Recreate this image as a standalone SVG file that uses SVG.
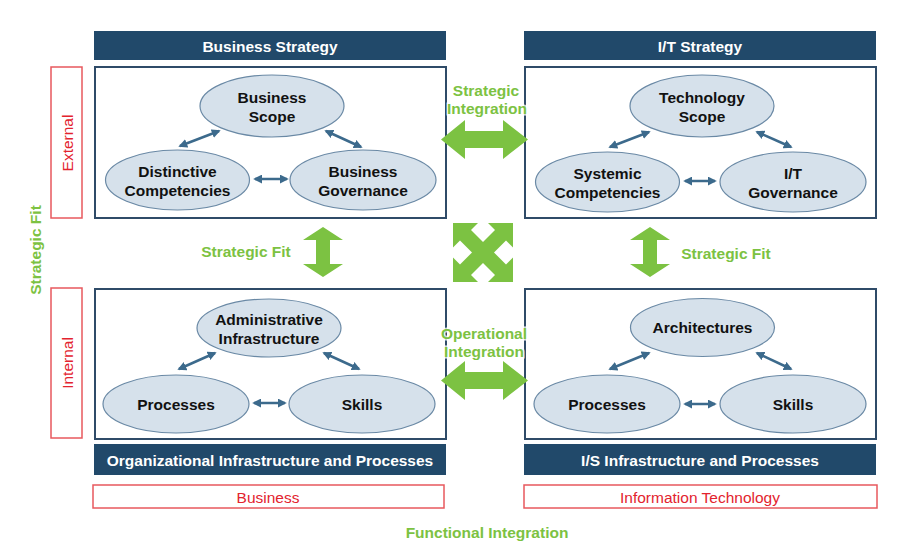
<svg xmlns="http://www.w3.org/2000/svg" width="903" height="549" viewBox="0 0 903 549">
<style>
.hdr{fill:#21496a}
.hdrt{font-family:"Liberation Sans",Arial,sans-serif;font-weight:bold;font-size:15.5px;fill:#ffffff;text-anchor:middle}
.panel{fill:#ffffff;stroke:#2f4b68;stroke-width:2}
.ell{fill:#d6e1eb;stroke:#6a89a5;stroke-width:1.2}
.et{font-family:"Liberation Sans",Arial,sans-serif;font-weight:bold;font-size:15.5px;fill:#111111;text-anchor:middle}
.red{fill:#ffffff;stroke:#e8585d;stroke-width:1.5}
.rt{font-family:"Liberation Sans",Arial,sans-serif;font-size:15.5px;fill:#e3232e;text-anchor:middle}
.gt{font-family:"Liberation Sans",Arial,sans-serif;font-weight:bold;font-size:15.5px;fill:#7cc242;text-anchor:middle}
.gth{stroke:#ffffff;stroke-width:3;paint-order:stroke;stroke-opacity:0.8}
.ga{fill:#7cc242}
.sa{stroke:#3c6a8c;stroke-width:2.5;fill:none;marker-start:url(#ah);marker-end:url(#ah)}
</style>
<defs>
<marker id="ah" viewBox="0 0 10 10" refX="8" refY="5" markerWidth="3.6" markerHeight="3.6" orient="auto-start-reverse" markerUnits="strokeWidth">
<path d="M0,0 L10,5 L0,10 Z" fill="#3c6a8c"/>
</marker>
</defs>
<rect width="903" height="549" fill="#ffffff"/>

<g id="business-strategy">
<rect class="hdr" x="94" y="31" width="352" height="29"/>
<text class="hdrt" x="270" y="51.5">Business Strategy</text>
<rect class="panel" x="95" y="67" width="351" height="151"/>
</g>
<g id="it-strategy">
<rect class="hdr" x="524" y="31" width="352" height="29"/>
<text class="hdrt" x="700" y="51.5">I/T Strategy</text>
<rect class="panel" x="525" y="67" width="351" height="151"/>
</g>
<g id="org-infra">
<rect class="panel" x="95" y="289" width="351" height="150"/>
<rect class="hdr" x="94" y="444" width="352" height="31"/>
<text class="hdrt" x="270" y="465.5">Organizational Infrastructure and Processes</text>
</g>
<g id="is-infra">
<rect class="panel" x="525" y="289" width="351" height="150"/>
<rect class="hdr" x="524" y="444" width="352" height="31"/>
<text class="hdrt" x="700" y="466">I/S Infrastructure and Processes</text>
</g>

<g id="business-scope"><ellipse class="ell" cx="272" cy="106" rx="72" ry="31"/><text class="et" x="272" y="102.5">Business</text><text class="et" x="272" y="121.5">Scope</text></g>
<g id="distinctive-competencies"><ellipse class="ell" cx="177.5" cy="180" rx="72" ry="30"/><text class="et" x="177.5" y="177">Distinctive</text><text class="et" x="177.5" y="196">Competencies</text></g>
<g id="business-governance"><ellipse class="ell" cx="363" cy="180" rx="73" ry="30"/><text class="et" x="363" y="177">Business</text><text class="et" x="363" y="196">Governance</text></g>

<g id="technology-scope"><ellipse class="ell" cx="702" cy="106" rx="72" ry="31"/><text class="et" x="702" y="103">Technology</text><text class="et" x="702" y="122">Scope</text></g>
<g id="systemic-competencies"><ellipse class="ell" cx="607.5" cy="182" rx="72" ry="30"/><text class="et" x="607.5" y="178.5">Systemic</text><text class="et" x="607.5" y="197.5">Competencies</text></g>
<g id="it-governance"><ellipse class="ell" cx="793" cy="182" rx="73" ry="30"/><text class="et" x="793" y="178.5">I/T</text><text class="et" x="793" y="197.5">Governance</text></g>

<g id="administrative-infrastructure"><ellipse class="ell" cx="269" cy="328" rx="72" ry="29"/><text class="et" x="269" y="325">Administrative</text><text class="et" x="269" y="343.5">Infrastructure</text></g>
<g id="processes-business"><ellipse class="ell" cx="176" cy="404" rx="73" ry="29"/><text class="et" x="176" y="409.5">Processes</text></g>
<g id="skills-business"><ellipse class="ell" cx="362" cy="404" rx="73" ry="29"/><text class="et" x="362" y="409.5">Skills</text></g>

<g id="architectures"><ellipse class="ell" cx="702.5" cy="327.5" rx="72" ry="29"/><text class="et" x="702.5" y="333">Architectures</text></g>
<g id="processes-it"><ellipse class="ell" cx="607" cy="404" rx="73" ry="29"/><text class="et" x="607" y="409.5">Processes</text></g>
<g id="skills-it"><ellipse class="ell" cx="793" cy="404" rx="73" ry="29"/><text class="et" x="793" y="409.5">Skills</text></g>

<g id="connectors">
<line class="sa" x1="180" y1="146" x2="219" y2="131"/>
<line class="sa" x1="326" y1="131" x2="361" y2="147"/>
<line class="sa" x1="255" y1="179" x2="287" y2="179"/>
<line class="sa" x1="610" y1="147" x2="649" y2="132"/>
<line class="sa" x1="757" y1="132" x2="791" y2="147"/>
<line class="sa" x1="685" y1="181" x2="715" y2="181"/>
<line class="sa" x1="179" y1="369" x2="215" y2="353"/>
<line class="sa" x1="324" y1="353" x2="359" y2="369"/>
<line class="sa" x1="254" y1="403" x2="285" y2="403"/>
<line class="sa" x1="610" y1="369" x2="649" y2="353"/>
<line class="sa" x1="757" y1="353" x2="791" y2="369"/>
<line class="sa" x1="685" y1="404" x2="715" y2="404"/>

<path class="ga" d="M441,139.5 L465,120 L465,131 L503,131 L503,120 L528,139.5 L503,159 L503,148 L465,148 L465,159 Z"/>
<path class="ga" d="M441,380.5 L465,361 L465,372 L503,372 L503,361 L528,380.5 L503,400 L503,389 L465,389 L465,400 Z"/>
<path class="ga" d="M323,227 L343,240 L330,240 L330,264 L343,264 L323,277 L303,264 L316,264 L316,240 L303,240 Z"/>
<path class="ga" d="M650,227 L670,240 L657,240 L657,264 L670,264 L650,277 L630,264 L643,264 L643,240 L630,240 Z"/>
<g id="cross-fit">
<rect class="ga" x="453" y="223" width="60" height="59"/>
<path fill="#ffffff" d="M483,218 L495,230 L483,242 L471,230 Z"/>
<path fill="#ffffff" d="M483,263 L495,275 L483,287 L471,275 Z"/>
<path fill="#ffffff" d="M460,240.5 L472,252.5 L460,264.5 L448,252.5 Z"/>
<path fill="#ffffff" d="M506,240.5 L518,252.5 L506,264.5 L494,252.5 Z"/>
</g>
</g>

<g id="labels">
<text class="gt gth" x="486" y="95.5">Strategic</text>
<text class="gt gth" x="487" y="113.5">Integration</text>
<text class="gt gth" x="484" y="338.5">Operational</text>
<text class="gt gth" x="484" y="356.5">Integration</text>
<text class="gt" x="246" y="256.5">Strategic Fit</text>
<text class="gt" x="726" y="258.5">Strategic Fit</text>
<text class="gt" x="0" y="0" transform="translate(40.5,250) rotate(-90)">Strategic Fit</text>
<text class="gt" x="487" y="538">Functional Integration</text>
</g>

<g id="external"><rect class="red" x="51" y="67" width="31" height="151"/><text class="rt" transform="translate(72.5,143) rotate(-90)">External</text></g>
<g id="internal"><rect class="red" x="51" y="288" width="31" height="150"/><text class="rt" transform="translate(72.5,363) rotate(-90)">Internal</text></g>
<g id="business"><rect class="red" x="93" y="485" width="351" height="23"/><text class="rt" x="268" y="502.5">Business</text></g>
<g id="information-technology"><rect class="red" x="524" y="485" width="353" height="23"/><text class="rt" x="700" y="502.5">Information Technology</text></g>
</svg>
